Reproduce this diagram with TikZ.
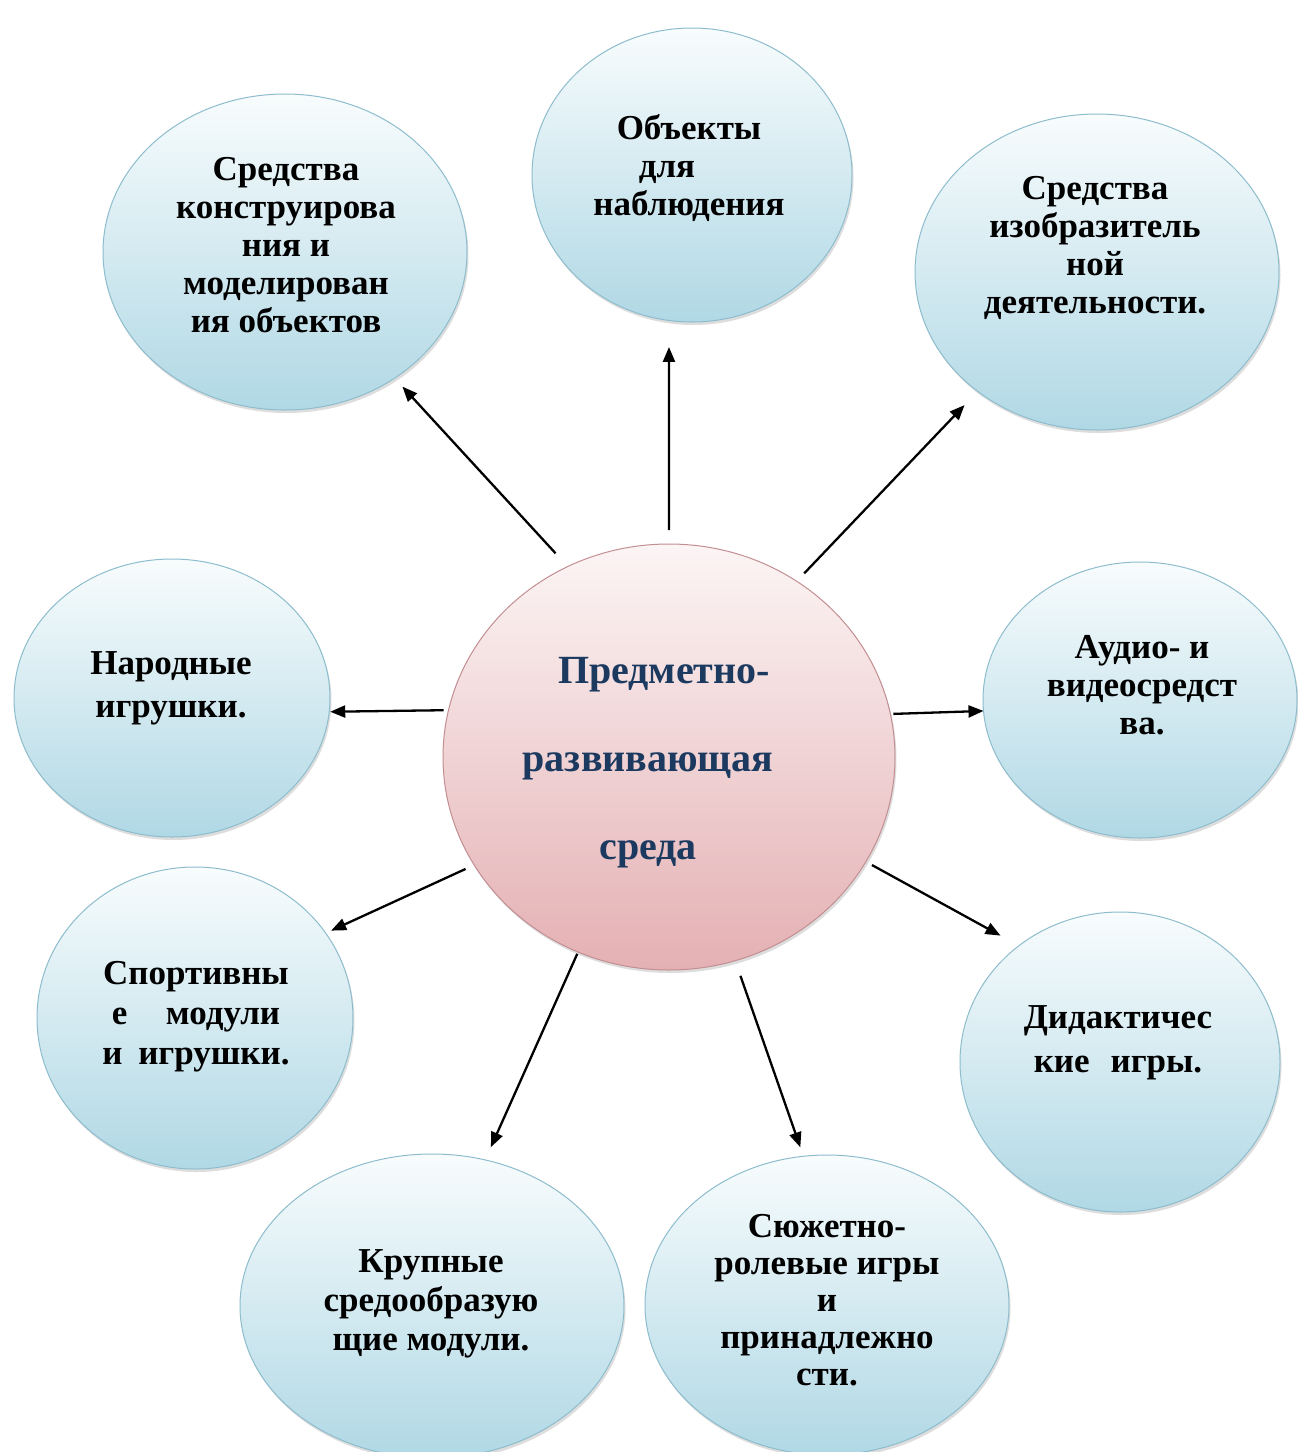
\documentclass[tikz,border=0pt]{standalone}
\usepackage{fontspec}
\setmainfont{Liberation Serif}
\usetikzlibrary{shapes.geometric,arrows.meta,shadows}
\definecolor{bubtop}{HTML}{F8FCFD}
\definecolor{bubbot}{HTML}{B0D8E5}
\definecolor{bubline}{HTML}{8DBDCD}
\definecolor{centop}{HTML}{FCF5F5}
\definecolor{cenbot}{HTML}{E4B0B3}
\definecolor{cenline}{HTML}{C38E92}
\definecolor{navy}{HTML}{1C3A60}
\tikzset{
  bub/.style={ellipse, draw=bubline, line width=1pt, top color=bubtop, bottom color=bubbot,
    inner sep=0pt, outer sep=0pt,
    drop shadow={shadow xshift=1.5pt, shadow yshift=-3pt, opacity=0.22, fill=black!60}},
  cen/.style={ellipse, draw=cenline, line width=1pt, top color=centop, bottom color=cenbot,
    inner sep=0pt, outer sep=0pt,
    drop shadow={shadow xshift=1.5pt, shadow yshift=-3pt, opacity=0.22, fill=black!60}},
  txt/.style={font=\bfseries\fontsize{35}{38}\selectfont, align=center, inner sep=0pt},
  ctxt/.style={font=\bfseries\fontsize{40}{88}\selectfont, align=center, inner sep=0pt, text=navy},
  arr/.style={line width=2.3pt, -{Triangle[length=15pt,width=12pt]}}
}
\begin{document}
\begin{tikzpicture}[x=1pt,y=-1pt]
\fill[white] (0,0) rectangle (1298,1452);
\useasboundingbox (0,0) rectangle (1298,1452);

% circles
\node[cen, minimum width=452pt, minimum height=426pt] (c) at (669,757) {};
\node[bub, minimum width=364pt, minimum height=316pt] (tl) at (285,252) {};
\node[bub, minimum width=320pt, minimum height=294pt] (top) at (692,175) {};
\node[bub, minimum width=364pt, minimum height=316pt] (tr) at (1097,272) {};
\node[bub, minimum width=316pt, minimum height=278pt] (nar) at (172,698) {};
\node[bub, minimum width=314pt, minimum height=276pt] (aud) at (1140,700) {};
\node[bub, minimum width=316pt, minimum height=302pt] (spo) at (195,1018) {};
\node[bub, minimum width=320pt, minimum height=300pt] (did) at (1120,1062) {};
\node[bub, minimum width=384pt, minimum height=304pt] (kru) at (432,1306) {};
\node[bub, minimum width=364pt, minimum height=300pt] (sju) at (827,1305) {};

% texts
\node[ctxt] (ct) at (648,763) {\rule{32pt}{0pt}Предметно-\\развивающая\\среда};
\node[txt] (tlt) at (286,245) {Средства\\конструирова\\ния и\\моделирован\\ия объектов};
\node[txt] (topt) at (689,168) {Объекты\\для\rule{44pt}{0pt}\\наблюдения};
\node[txt] (trt) at (1095,248) {Средства\\изобразитель\\ной\\деятельности.};
\node[txt, font=\bfseries\fontsize{35}{43}\selectfont] (nart) at (171,688) {Народные\\игрушки.};
\node[txt] (audt) at (1142,685) {Аудио- и\\видеосредст\\ва.};
\node[txt, font=\bfseries\fontsize{35}{40}\selectfont] (spot) at (196,1017) {Спортивны\\е\hspace{1.1em}модули\\и\hspace{0.45em}игрушки.};
\node[txt, font=\bfseries\fontsize{35}{44}\selectfont] (didt) at (1118,1043) {Дидактичес\\кие\hspace{0.6em}игры.};
\node[txt, font=\bfseries\fontsize{35}{39}\selectfont] (krut) at (431,1304) {Крупные\\средообразую\\щие модули.};
\node[txt, font=\bfseries\fontsize{35}{37}\selectfont] (sjut) at (827,1300) {Сюжетно-\\ролевые игры\\и\\принадлежно\\сти.};

% connectors
\draw[arr, shorten <=18pt, shorten >=11.5pt] (c.118.6) -- (tl.-49.1);
\draw[arr, shorten <=14pt, shorten >=26.5pt] (c.90) -- (top.-99);
\draw[arr, shorten <=11pt, shorten >=19pt] (c.54.1) -- (tr.-135.9);
\draw[arr, shorten <=5pt, shorten >=1pt] (c.168.5) -- (nar.-5.1);
\draw[arr, shorten <=3pt, shorten >=0pt] (c.11.6) -- (aud.184.4);
\draw[arr, shorten <=9.5pt, shorten >=6pt] (c.-151.4) -- (spo.33.4);
\draw[arr, shorten <=7pt, shorten >=21pt] (c.-28.9) -- (did.131.1);
\draw[arr, shorten <=2pt, shorten >=14pt] (c.-115) -- (kru.70.7);
\draw[arr, shorten <=16pt, shorten >=9.5pt] (c.-72.8) -- (sju.99);
\end{tikzpicture}
\end{document}
